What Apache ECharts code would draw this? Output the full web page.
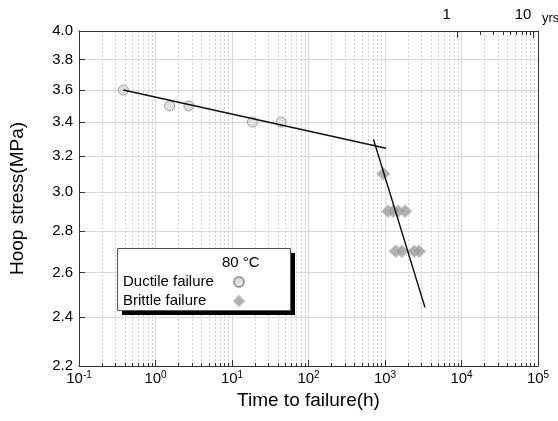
<!DOCTYPE html>
<html><head><meta charset="utf-8">
<script src="https://cdn.jsdelivr.net/npm/echarts@6/dist/echarts.min.js"></script>
<style>html,body{margin:0;padding:0;background:#fff}#c{width:558px;height:421px}</style>
</head><body><div id="c"></div>
<script>
// ---- data ----
const HOURS_PER_YEAR = 8760;
const xMajorTicks = [0.1, 1, 10, 100, 1000, 10000, 100000];
const xMinorTicks = [0.2,0.3,0.4,0.5,0.6,0.7,0.8,0.9, 2,3,4,5,6,7,8,9, 20,30,40,50,60,70,80,90,
  200,300,400,500,600,700,800,900, 2000,3000,4000,5000,6000,7000,8000,9000,
  20000,30000,40000,50000,60000,70000,80000,90000];
const yTicks = [2.2, 2.4, 2.6, 2.8, 3.0, 3.2, 3.4, 3.6, 3.8, 4.0];
const yearTicks = [1, 10];
const yearMinorTicks = [2, 3, 4, 5, 6, 7, 8, 9];

const ductileTime   = [0.38, 1.53, 2.73, 18.5, 44];
const ductileStress = [3.6, 3.5, 3.5, 3.4, 3.4];
const brittleTime   = [953, 1097, 1276, 1482, 1829, 1383, 1656, 2417, 2784];
const brittleStress = [3.1, 2.9, 2.9, 2.9, 2.9, 2.7, 2.7, 2.7, 2.7];
const ductileFitTime   = [0.38, 1033];
const ductileFitStress = [3.6, 3.245];
const brittleFitTime   = [706, 3334];
const brittleFitStress = [3.297, 2.442];

// ---- chart ----
const FONT = 'Liberation Sans, Arial, sans-serif';
const zip = (a, b) => a.map((v, i) => [v, b[i]]);
const chart = echarts.init(document.getElementById('c'), null, {renderer: 'canvas'});
const xMin = 0.1, xMax = 100000;
const axisLineStyle = {color: '#333', width: 1};

chart.setOption({
  animation: false,
  backgroundColor: '#fff',
  grid: {left: 79, right: 20, top: 31, bottom: 55, containLabel: false, outerBoundsMode: 'none'},
  xAxis: [
    { type: 'log', min: xMin, max: xMax, position: 'bottom', gridIndex: 0,
      axisLine: {show: true, lineStyle: axisLineStyle},
      axisTick: {show: true, inside: true, length: 6, customValues: xMajorTicks, lineStyle: axisLineStyle},
      axisLabel: {show: true, customValues: xMajorTicks, margin: 4, color: '#000',
        formatter: v => '{b|10}{s|' + Math.round(Math.log10(v)) + '}',
        rich: {
          b: {fontSize: 15, fontFamily: FONT, color: '#000', lineHeight: 18},
          s: {fontSize: 10, fontFamily: FONT, color: '#000', lineHeight: 8, verticalAlign: 'top'}
        }},
      splitLine: {show: true, lineStyle: {color: '#d9d9d9', width: 1}},
      name: 'Time to failure(h)', nameLocation: 'middle', nameGap: 25,
      nameTextStyle: {fontSize: 19, fontFamily: FONT, color: '#000'}
    },
    { type: 'log', min: xMin, max: xMax, position: 'bottom', gridIndex: 0,
      axisLine: {show: false},
      axisTick: {show: true, inside: true, length: 3, customValues: xMinorTicks, lineStyle: axisLineStyle},
      axisLabel: {show: false},
      splitLine: {show: true, lineStyle: {color: '#d0d0d0', width: 1, type: [2, 2]}}
    },
    { type: 'log', min: xMin / HOURS_PER_YEAR, max: xMax / HOURS_PER_YEAR, position: 'top', gridIndex: 0,
      axisLine: {show: true, lineStyle: axisLineStyle},
      axisTick: {show: true, inside: true, length: 7, customValues: yearTicks, lineStyle: axisLineStyle},
      axisLabel: {show: true, customValues: yearTicks, margin: 9, color: '#000', fontSize: 15, fontFamily: FONT,
        padding: [0, 21, 0, 0], formatter: v => String(Math.round(v))},
      splitLine: {show: false},
      name: 'yrs', nameLocation: 'end', nameGap: 4,
      nameTextStyle: {fontSize: 13, fontFamily: FONT, color: '#000', verticalAlign: 'bottom', padding: [0, 0, 6, 0]}
    },
    { type: 'log', min: xMin / HOURS_PER_YEAR, max: xMax / HOURS_PER_YEAR, position: 'top', gridIndex: 0,
      axisLine: {show: false},
      axisTick: {show: true, inside: true, length: 4, customValues: yearMinorTicks, lineStyle: axisLineStyle},
      axisLabel: {show: false},
      splitLine: {show: false}
    }
  ],
  yAxis: [
    { type: 'log', min: 2.2, max: 4.0, position: 'left', gridIndex: 0,
      axisLine: {show: true, lineStyle: axisLineStyle},
      axisTick: {show: true, inside: true, length: 6, customValues: yTicks, lineStyle: axisLineStyle},
      axisLabel: {show: true, customValues: yTicks, margin: 6, color: '#000', fontSize: 15, fontFamily: FONT,
        formatter: v => v.toFixed(1)},
      splitLine: {show: true, lineStyle: {color: '#d9d9d9', width: 1}},
      name: 'Hoop stress(MPa)', nameLocation: 'middle', nameGap: 52,
      nameTextStyle: {fontSize: 19, fontFamily: FONT, color: '#000'}
    },
    { type: 'log', min: 2.2, max: 4.0, position: 'right', gridIndex: 0,
      axisLine: {show: true, lineStyle: axisLineStyle},
      axisTick: {show: false}, axisLabel: {show: false}, splitLine: {show: false}
    }
  ],
  legend: {
    show: true, orient: 'vertical', left: 123, top: 274,
    data: ['Ductile failure', 'Brittle failure'],
    align: 'right', itemWidth: 10, itemHeight: 10, itemGap: 3,
    padding: 0,
    formatter: name => '{a|' + name + '}',
    textStyle: {fontSize: 15, fontFamily: FONT, color: '#000', lineHeight: 16,
      rich: {a: {fontSize: 15, fontFamily: FONT, color: '#000', width: 106, align: 'left', lineHeight: 16}}},
    selectedMode: false, z: 10
  },
  graphic: [
    {type: 'rect', z: 8, silent: true, shape: {x: 122, y: 253, width: 173, height: 62},
     style: {fill: '#000'}},
    {type: 'rect', z: 9, silent: true, shape: {x: 117.5, y: 248.5, width: 173, height: 62},
     style: {fill: '#fff', stroke: '#555', lineWidth: 1}},
    {type: 'text', left: 222, top: 255, z: 200,
     style: {text: '80 °C', fontSize: 15, fontFamily: FONT, fill: '#000'}}
  ],
  series: [
    { name: 'Ductile failure', type: 'scatter', xAxisIndex: 0, yAxisIndex: 0,
      data: zip(ductileTime, ductileStress), symbol: 'circle', symbolSize: 10, z: 3,
      itemStyle: {color: '#d9d9d9', borderColor: '#8a8a8a', borderWidth: 1}
    },
    { name: 'Brittle failure', type: 'scatter', xAxisIndex: 0, yAxisIndex: 0,
      data: zip(brittleTime, brittleStress), symbol: 'diamond', symbolSize: [13, 12], z: 3,
      itemStyle: {color: '#9c9c9c', borderColor: '#b8b8b8', borderWidth: 1}
    },
    { name: 'ductileFit', type: 'line', xAxisIndex: 0, yAxisIndex: 0,
      data: zip(ductileFitTime, ductileFitStress), symbol: 'none', z: 4,
      lineStyle: {color: '#111', width: 1.4}
    },
    { name: 'brittleFit', type: 'line', xAxisIndex: 0, yAxisIndex: 0,
      data: zip(brittleFitTime, brittleFitStress), symbol: 'none', z: 4,
      lineStyle: {color: '#111', width: 1.4}
    }
  ]
});
</script></body></html>
